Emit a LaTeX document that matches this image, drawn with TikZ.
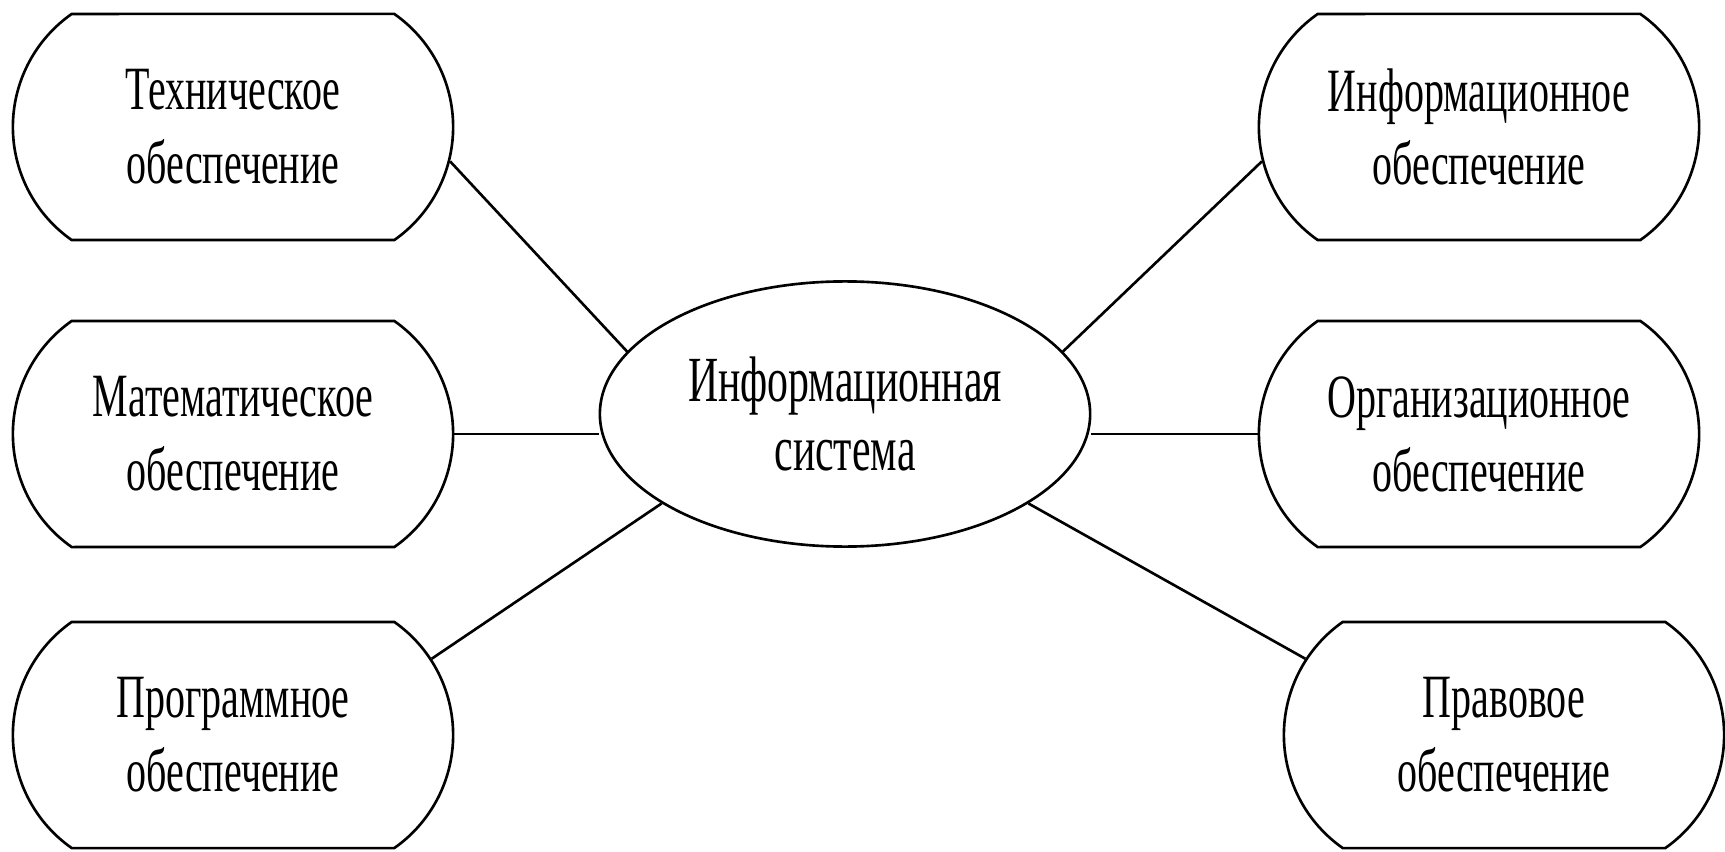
\documentclass[tikz,border=0pt]{standalone}
\usepackage{fontspec}
\setmainfont[FakeStretch=0.65]{Liberation Serif}
\usepackage{tikz}
\usetikzlibrary{positioning, shapes.geometric, shapes.misc}

\begin{document}
\begin{tikzpicture}[x=0.01cm, y=-0.01cm,
    box/.style={rounded rectangle, rounded rectangle arc length=110, draw=black,
                line width=0.75pt, minimum width=4.4cm, minimum height=2.26cm,
                inner sep=0pt, align=center,
                font=\fontsize{17.5}{21}\selectfont},
    sys/.style={ellipse, draw=black, line width=0.75pt, minimum width=4.9cm,
                minimum height=2.65cm, inner sep=0pt, align=center,
                font=\fontsize{18.3}{19.5}\selectfont},
    link/.style={draw=black, line width=0.75pt},
  ]
    \useasboundingbox (0,0) rectangle (1725,852);

    % центр
    \node[sys] (is) at (845,414) {Информационная\\система};

    % левая колонка
    \node[box] (ts) at (233,127) {Техническое\\обеспечение};
    \node[box] (ms) at (233,434) {Математическое\\обеспечение};
    \node[box] (ps) at (233,735) {Программное\\обеспечение};

    % правая колонка
    \node[box] (io) at (1479,127) {Информационное\\обеспечение};
    \node[box] (oo) at (1479,434) {Организационное\\обеспечение};
    \node[box] (po) at (1504,735) {Правовое\\обеспечение};

    \draw[link] (ts.-9) -- (is.164);
    \draw[link] (ms.east) -- (ms.east -| is.west);
    \draw[link] (ps.21) -- (is.206);
    \draw[link] (io.189) -- (is.16);
    \draw[link] (oo.west) -- (oo.west -| is.east);
    \draw[link] (po.159) -- (is.-26);
  \end{tikzpicture}
\end{document}
